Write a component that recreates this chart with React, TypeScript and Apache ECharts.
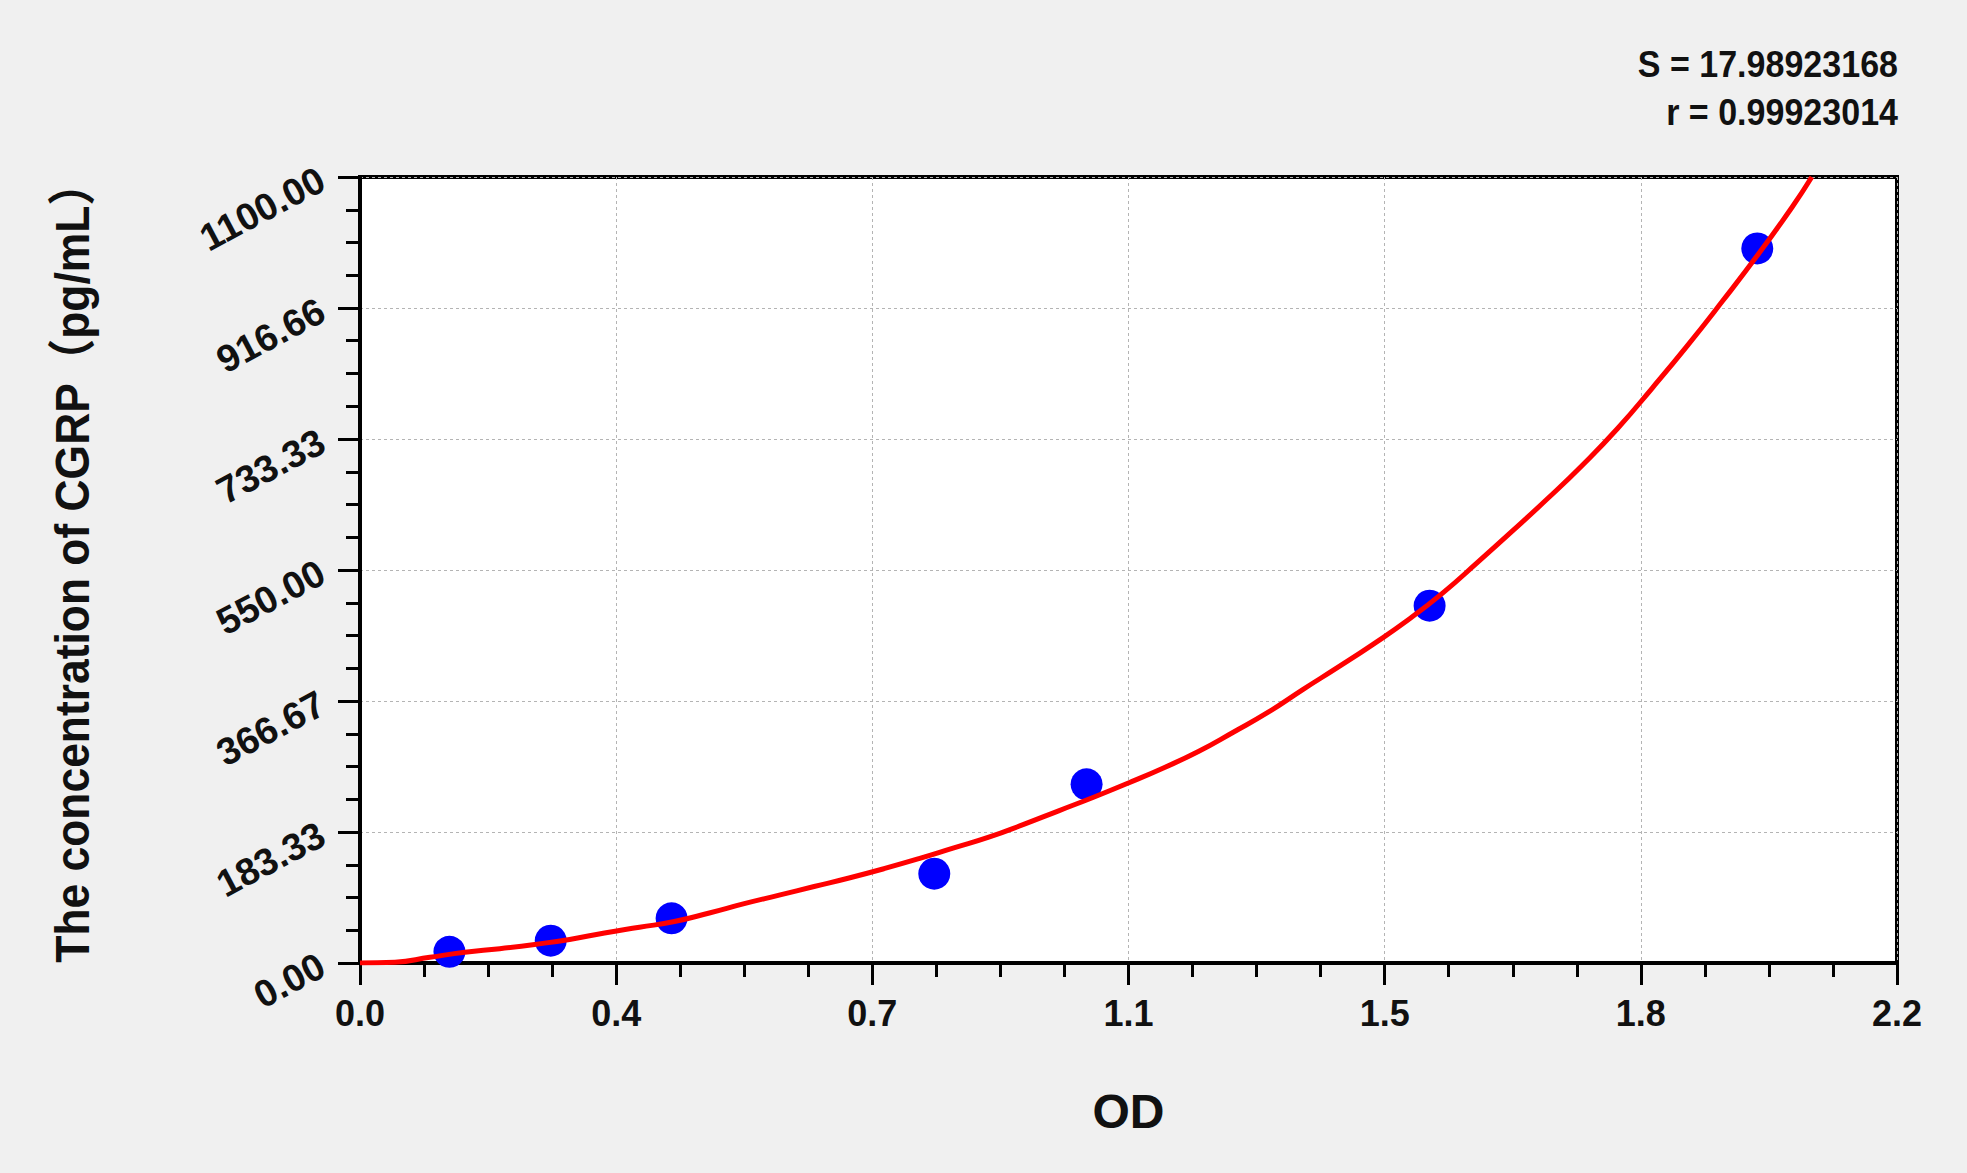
import { useEffect, useRef } from "react";
import * as echarts from "echarts";

// tick labels as printed on the reference
const xTickLabels = ["0.0", "0.4", "0.7", "1.1", "1.5", "1.8", "2.2"];
const yTickLabels = ["0.00", "183.33", "366.67", "550.00", "733.33", "916.66", "1100.00"];

// standards (OD vs concentration, pg/mL)
const stdOD = [0.128, 0.273, 0.446, 0.822, 1.04, 1.531, 2.0];
const stdConc = [15.63, 31.25, 62.5, 125, 250, 500, 1000];

// fitted curve
const curveOD = [
  0, 0.05, 0.1, 0.15, 0.2, 0.25, 0.3, 0.35, 0.4, 0.45, 0.5, 0.55, 0.6, 0.65,
  0.7, 0.75, 0.8, 0.85, 0.9, 0.95, 1.0, 1.05, 1.1, 1.15, 1.2, 1.25, 1.3, 1.35,
  1.4, 1.45, 1.5, 1.55, 1.6, 1.65, 1.7, 1.75, 1.8, 1.85, 1.9, 1.95, 2.0, 2.05,
  2.078,
];
const curveConc = [
  0, 1, 8, 15, 20, 26, 33, 42, 50, 58, 70, 83, 95, 107, 119, 132, 146, 161,
  176, 194, 213, 232, 252, 273, 296, 323, 351, 383, 414, 446, 480, 518, 561,
  605, 650, 697, 748, 805, 864, 926, 990, 1058, 1100,
];

const fitStats = ["S = 17.98923168", "r = 0.99923014"];
const yTitle = "The concentration of CGRP（pg/mL）";
const xTitle = "OD";

const FONT = "'Liberation Sans', Arial, 'Noto Sans CJK SC', sans-serif";
const X_MAX = 2.2;
const Y_MAX = 1100;

function App() {
  const chartRef = useRef<HTMLDivElement>(null);

  useEffect(() => {
    if (!chartRef.current) return;
    const chart = echarts.init(chartRef.current, null, { renderer: "svg" });

    const xStep = X_MAX / 6;
    const yStep = Y_MAX / 6;

    const axisCommon = {
      type: "value",
      axisLine: { show: true, lineStyle: { color: "#000", width: 4 } },
      axisTick: { show: true, inside: false, length: 22, lineStyle: { color: "#000", width: 3 } },
      minorTick: { show: true, splitNumber: 4, length: 14, lineStyle: { color: "#000", width: 3 } },
      splitLine: { show: true, lineStyle: { color: "#b4b4b4", width: 1, type: [3, 3] } },
      minorSplitLine: { show: false },
    };

    chart.setOption({
      animation: false,
      backgroundColor: "#f0f0f0",
      textStyle: { fontFamily: FONT },
      grid: {
        left: 360,
        right: 70,
        top: 177,
        bottom: 210,
        show: true,
        backgroundColor: "#fff",
        borderColor: "#000",
        borderWidth: 4,
      },
      xAxis: {
        ...axisCommon,
        min: 0,
        max: X_MAX,
        interval: xStep,
        name: xTitle,
        nameLocation: "middle",
        nameGap: 124,
        nameTextStyle: { fontSize: 48, fontWeight: "bold", color: "#111", fontFamily: FONT },
        axisLabel: {
          margin: 32,
          fontSize: 36,
          fontWeight: "bold",
          color: "#111",
          fontFamily: FONT,
          formatter: (v: number) => xTickLabels[Math.round(v / xStep)] ?? "",
        },
      },
      yAxis: {
        ...axisCommon,
        min: 0,
        max: Y_MAX,
        interval: yStep,
        axisLabel: {
          margin: 38,
          rotate: 28,
          fontSize: 38,
          fontWeight: "bold",
          color: "#111",
          fontFamily: FONT,
          formatter: (v: number) => yTickLabels[Math.round(v / yStep)] ?? "",
        },
      },
      series: [
        {
          type: "scatter",
          data: stdOD.map((x, i) => [x, stdConc[i]]),
          symbol: "circle",
          symbolSize: 32,
          itemStyle: { color: "#0000ff", opacity: 1 },
          z: 2,
        },
        {
          type: "line",
          data: curveOD.map((x, i) => [x, curveConc[i]]),
          smooth: true,
          showSymbol: false,
          clip: true,
          lineStyle: { color: "#ff0000", width: 5 },
          z: 3,
        },
      ],
      graphic: [
        ...fitStats.map((t, i) => ({
          type: "text",
          x: 1898,
          y: 65 + i * 48,
          scaleX: 0.92,
          style: {
            text: t,
            x: 0,
            y: 0,
            align: "right",
            verticalAlign: "middle",
            fontSize: 37,
            fontWeight: "bold",
            fontFamily: FONT,
            fill: "#111",
          },
        })),
        {
          type: "text",
          x: 72,
          y: 562,
          rotation: Math.PI / 2,
          scaleX: 0.925,
          style: {
            text: yTitle,
            x: 0,
            y: 0,
            align: "center",
            verticalAlign: "middle",
            fontSize: 48,
            fontWeight: "bold",
            fontFamily: FONT,
            fill: "#111",
          },
        },
      ],
    });

    return () => {
      chart.dispose();
    };
  }, []);

  return (
    <div
      ref={chartRef}
      style={{ position: "fixed", left: 0, top: 0, width: 1967, height: 1173 }}
    />
  );
}

export default App;
